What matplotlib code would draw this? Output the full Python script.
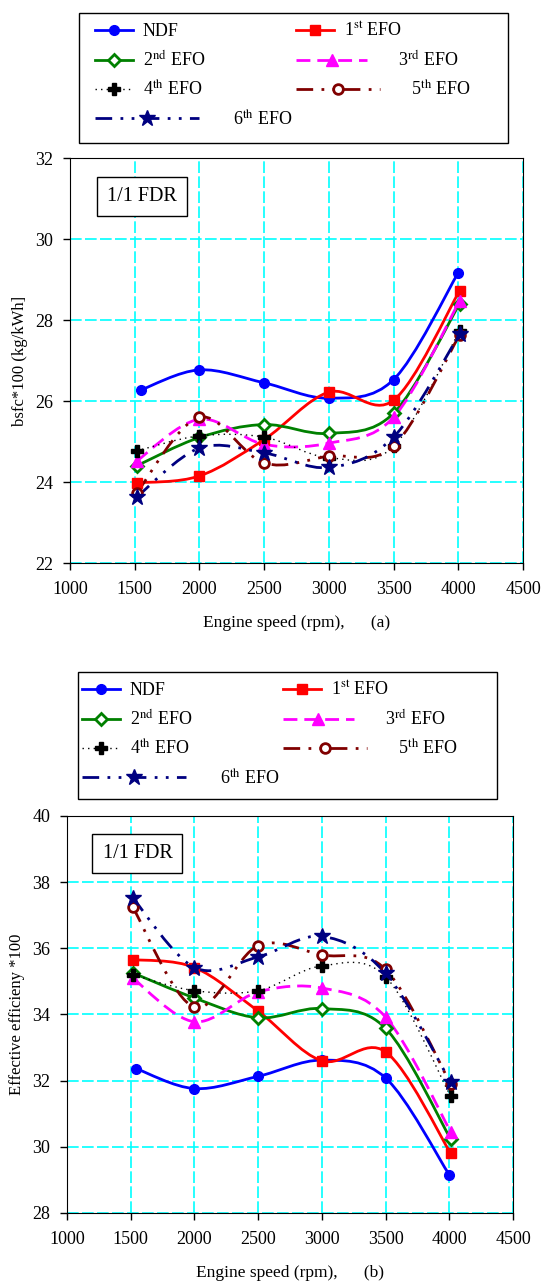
import numpy as np
import matplotlib
matplotlib.use("Agg")
import matplotlib.pyplot as plt
from matplotlib.path import Path
from matplotlib.patches import PathPatch, Rectangle
from matplotlib.lines import Line2D
from matplotlib.legend_handler import HandlerLine2D

plt.rcParams["font.family"] = ["Liberation Serif", "DejaVu Serif"]
plt.rcParams["mathtext.fontset"] = "stix"

# engine speed (rpm)
speed = [1515, 2000, 2500, 3000, 3500, 4010]
speed_ndf = [1545, 2000, 2500, 3000, 3500, 4000]

labels = ["NDF", r"1$^{\rm st}$ EFO", r"2$^{\rm nd}$ EFO", r"3$^{\rm rd}$ EFO",
          r"4$^{\rm th}$ EFO", r"5$^{\rm th}$ EFO", r"6$^{\rm th}$ EFO"]

# (a) bsfc*100 (kg/kWh)
bsfc_ndf = [26.27, 26.77, 26.45, 26.07, 26.53, 29.17]
bsfc_1st = [23.98, 24.15, 25.05, 26.22, 26.02, 28.72]
bsfc_2nd = [24.40, 25.10, 25.42, 25.20, 25.70, 28.40]
bsfc_3rd = [24.52, 25.55, 24.93, 24.96, 25.60, 28.47]
bsfc_4th = [24.77, 25.14, 25.11, 24.60, 24.88, 27.73]
bsfc_5th = [23.73, 25.60, 24.47, 24.64, 24.89, 27.63]
bsfc_6th = [23.63, 24.84, 24.72, 24.36, 25.11, 27.65]

# (b) effective efficiency *100
eff_ndf = [32.36, 31.76, 32.13, 32.62, 32.08, 29.15]
eff_1st = [35.66, 35.42, 34.10, 32.60, 32.87, 29.81]
eff_2nd = [35.26, 34.50, 33.90, 34.18, 33.58, 30.24]
eff_3rd = [35.10, 33.78, 34.68, 34.80, 33.92, 30.46]
eff_4th = [35.20, 34.72, 34.72, 35.47, 35.14, 31.53]
eff_5th = [37.25, 34.22, 36.08, 35.80, 35.36, 31.91]
eff_6th = [37.53, 35.42, 35.74, 36.36, 35.24, 31.96]

bsfc = [bsfc_ndf, bsfc_1st, bsfc_2nd, bsfc_3rd, bsfc_4th, bsfc_5th, bsfc_6th]
eff = [eff_ndf, eff_1st, eff_2nd, eff_3rd, eff_4th, eff_5th, eff_6th]

styles = [
    dict(color="blue", ls="-", lw=2, marker="o", ms=7, mfc="blue", mew=1),
    dict(color="red", ls="-", lw=2, marker="s", ms=7, mfc="red", mew=1),
    dict(color="#008000", ls="-", lw=2, marker="D", ms=6.5, mfc="white", mew=2),
    dict(color="magenta", ls=(0, (5, 2.5)), lw=2, marker="^", ms=8, mfc="magenta", mew=1),
    dict(color="black", ls=(0, (1, 3)), lw=1, marker="P", ms=9, mfc="black", mew=1),
    dict(color="#800000", ls=(0, (6, 3, 1, 3, 1, 3)), lw=2, marker="o", ms=7, mfc="white", mew=2),
    dict(color="#000080", ls=(0, (6, 3, 1, 3, 1, 3)), lw=2, marker="*", ms=12, mfc="#000080", mew=1),
]


def smooth_path(x, y):
    # excel like smoothed line (catmull-rom bezier through the points)
    pts = np.column_stack([np.asarray(x, float), np.asarray(y, float)])
    n = len(pts)
    verts = [pts[0]]
    codes = [Path.MOVETO]
    for i in range(n - 1):
        p0 = pts[max(i - 1, 0)]
        p1 = pts[i]
        p2 = pts[i + 1]
        p3 = pts[min(i + 2, n - 1)]
        verts += [p1 + (p2 - p0) / 6, p2 - (p3 - p1) / 6, p2]
        codes += [Path.CURVE4] * 3
    return Path(verts, codes)


class LongHandle(HandlerLine2D):
    # dashed entries get a longer sample line, like the original legend
    def __init__(self, factor, **kw):
        super().__init__(**kw)
        self.factor = factor

    def create_artists(self, legend, orig_handle, xdescent, ydescent, width, height, fontsize, trans):
        return super().create_artists(legend, orig_handle, xdescent, ydescent,
                                      width * self.factor, height, fontsize, trans)


def draw_panel(ax, data, ylim, ylabel, xlabel):
    for i, (y, st) in enumerate(zip(data, styles)):
        x = speed_ndf if i == 0 else speed
        ax.add_patch(PathPatch(smooth_path(x, y), fill=False, edgecolor=st["color"],
                               lw=st["lw"], linestyle=st["ls"], zorder=2 + i * 0.01))
        ax.plot(x, y, ls="none", marker=st["marker"], ms=st["ms"], color=st["color"],
                mfc=st["mfc"], mec=st["color"], mew=st["mew"], zorder=3 + i * 0.01)
    ax.set_xlim(1000, 4500)
    ax.set_ylim(*ylim)
    ax.set_xticks(np.arange(1000, 4501, 500))
    ax.set_yticks(np.arange(ylim[0], ylim[1] + 0.1, 2))
    ax.grid(True, color="#00FFFF", lw=1.2, ls=(0, (7, 2)))
    ax.set_axisbelow(True)
    ax.tick_params(direction="out", length=5, width=1, labelsize=13)
    ax.tick_params(axis="x", pad=8)
    ax.tick_params(axis="y", pad=7)
    ax.set_ylabel(ylabel, fontsize=12, labelpad=5)
    ax.set_xlabel(xlabel, fontsize=12.5, labelpad=12)
    ax.text(0.158, 0.905, "1/1 FDR", transform=ax.transAxes, fontsize=14.5,
            ha="center", va="center",
            bbox=dict(boxstyle="square,pad=0.5", fc="white", ec="black", lw=1))


fig = plt.figure(figsize=(5.44, 12.84), dpi=100)
ax1 = fig.add_axes([0.1287, 0.5615, 0.8327, 0.3154])
ax2 = fig.add_axes([0.1232, 0.0553, 0.8199, 0.3092])

draw_panel(ax1, bsfc, (22, 32), "bsfc*100 (kg/kWh]", "Engine speed (rpm),      (a)")
draw_panel(ax2, eff, (28, 40), "Effective efficieny *100", "Engine speed (rpm),      (b)")

# legends, two columns (col 1: NDF, 2nd, 4th, 6th / col 2: 1st, 3rd, 5th)
handles = [Line2D([], [], color=st["color"], ls=st["ls"], lw=st["lw"], marker=st["marker"],
                  ms=st["ms"], mfc=st["mfc"], mec=st["color"], mew=st["mew"]) for st in styles]
hmap = {handles[3]: LongHandle(1.85), handles[5]: LongHandle(2.2), handles[6]: LongHandle(2.75)}
order = [0, 2, 4, 6, 1, 3, 5]
leg_labels = [labels[0], labels[1], labels[2], " " * 12 + labels[3],
              labels[4], " " * 15 + labels[5], " " * 20 + labels[6]]
# anchor of the entries and the drawn box around them (figure fractions)
for anchor, frame in [((0.158, 0.9899), (0.1452, 0.8886, 0.7886, 0.1012)),
                      ((0.134, 0.4766), (0.1434, 0.3777, 0.7702, 0.0989))]:
    fig.legend([handles[i] for i in order], [leg_labels[i] for i in order],
               loc="upper left", bbox_to_anchor=anchor, ncol=2, handler_map=hmap,
               fontsize=13, frameon=False, handlelength=2.1, handletextpad=0.55,
               labelspacing=0.55, columnspacing=0.22, borderaxespad=0, borderpad=0.5)
    fig.add_artist(Rectangle(frame[:2], frame[2], frame[3], transform=fig.transFigure,
                             fill=False, ec="black", lw=1))

fig.savefig("out.png", dpi=100)
